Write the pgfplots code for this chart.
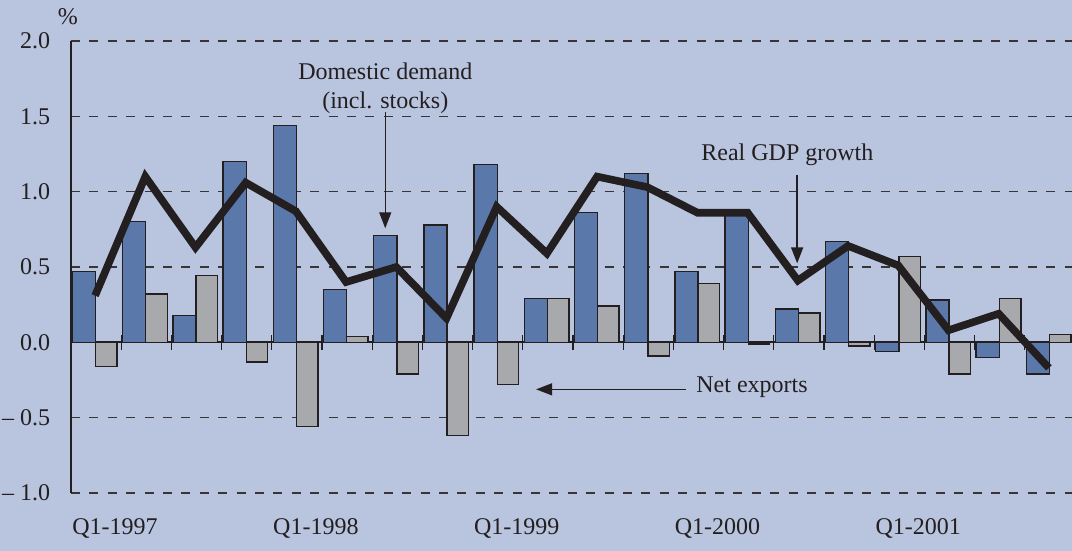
\documentclass[border=0pt]{standalone}
\usepackage{pgfplots}
\pgfplotsset{compat=1.18}
\usepackage{pgfplotstable}
\usepackage{fontspec}
\setmainfont{Liberation Serif}
\usetikzlibrary{arrows.meta}
\definecolor{bgc}{RGB}{185,196,223}
\definecolor{bluebar}{RGB}{90,120,170}
\definecolor{graybar}{RGB}{168,169,173}
\definecolor{ink}{RGB}{35,31,32}

\pgfplotstableread{
x dd nx gdp
0 0.47 -0.16 0.31
1 0.80 0.32 1.10
2 0.18 0.445 0.63
3 1.20 -0.13 1.06
4 1.44 -0.56 0.87
5 0.35 0.04 0.40
6 0.71 -0.21 0.50
7 0.78 -0.62 0.16
8 1.18 -0.28 0.90
9 0.29 0.29 0.59
10 0.86 0.24 1.10
11 1.12 -0.09 1.03
12 0.47 0.39 0.86
13 0.86 -0.01 0.86
14 0.22 0.195 0.41
15 0.67 -0.025 0.64
16 -0.06 0.57 0.51
17 0.28 -0.21 0.08
18 -0.10 0.29 0.19
19 -0.21 0.05 -0.17
}\data

\begin{document}
\begin{tikzpicture}[x=1pt,y=1pt]
\fill[bgc] (0,0) rectangle (536,275.5);
\useasboundingbox (0,0) rectangle (536,275.5);
\begin{axis}[
  at={(35.5pt,29pt)}, anchor=south west,
  scale only axis, width=500.5pt, height=226pt,
  xmin=0, xmax=19.94, ymin=-1, ymax=2,
  axis x line=middle, axis y line=left,
  x axis line style={-, draw=ink, line width=0.9pt},
  y axis line style={-, draw=ink, line width=0.8pt},
  hide obscured x ticks=false, hide obscured y ticks=false,
  xtick={0,4,8,12,16},
  xticklabels={Q1-1997,Q1-1998,Q1-1999,Q1-2000,Q1-2001},
  minor xtick={1,2,3,5,6,7,9,10,11,13,14,15,17,18,19},
  tick align=center,
  major tick length=7.5pt, minor tick length=7.5pt,
  xtick style={draw=ink, line width=0.6pt},
  ytick={-1,-0.5,0,0.5,1,1.5,2},
  yticklabels={\textendash\ 1.0,\textendash\ 0.5,0.0,0.5,1.0,1.5,2.0},
  ytick style={draw=none},
  ymajorgrids,
  grid style={draw=ink!90, dash pattern=on 4.5pt off 4.7pt, line width=0.6pt},
  tick label style={font=\fontsize{12}{14}\selectfont, text=ink},
  xticklabel style={anchor=north west, inner sep=0pt, xshift=0.5pt, yshift=-84pt},
  yticklabel style={anchor=east, inner sep=0pt, xshift=-6.5pt},
  clip=false,
]
\addplot[ybar, bar width=0.46, bar shift=0.26, fill=bluebar, draw=ink, line width=0.7pt]
  table[x=x, y=dd]{\data};
\addplot[ybar, bar width=0.43, bar shift=0.705, fill=graybar, draw=ink, line width=0.7pt]
  table[x=x, y=nx]{\data};
\addplot[ink, line width=3.8pt, mark=none]
  table[x expr=\thisrow{x}+0.48, y=gdp]{\data};

\node[font=\fontsize{12}{14.5}\selectfont, text=ink, align=center] at (axis cs:6.26,1.685) {Domestic demand\\(incl. stocks)};
\draw[ink, line width=0.7pt, -{Triangle[length=8pt,width=6pt]}] (axis cs:6.26,1.527) -- (axis cs:6.26,0.757);
\node[font=\fontsize{12}{14}\selectfont, text=ink] at (axis cs:14.27,1.248) {Real GDP growth};
\draw[ink, line width=0.7pt, -{Triangle[length=8pt,width=6pt]}] (axis cs:14.465,1.108) -- (axis cs:14.465,0.524);
\node[font=\fontsize{12}{14}\selectfont, text=ink, anchor=west, inner sep=0pt] at (axis cs:12.45,-0.30) {Net exports};
\draw[ink, line width=0.7pt, -{Triangle[length=8pt,width=6pt]}] (axis cs:12.25,-0.312) -- (axis cs:9.265,-0.312);
\node[font=\fontsize{12}{14}\selectfont, text=ink] at (axis cs:-0.06,2.164) {\%};
\end{axis}
\end{tikzpicture}
\end{document}
